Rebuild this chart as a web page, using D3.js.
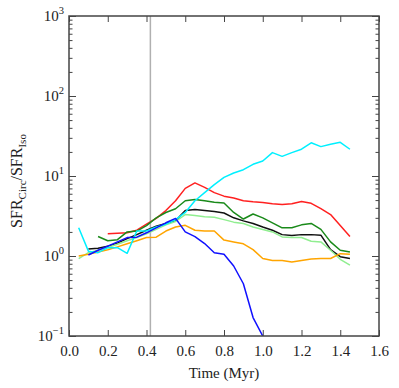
<!DOCTYPE html>
<html>
<head>
<meta charset="utf-8">
<script src="https://cdn.jsdelivr.net/npm/d3@7"></script>
<style>
  body { margin: 0; background: #fff; }
  text { font-family: "Liberation Serif", "DejaVu Serif", serif; fill: #222; }
</style>
</head>
<body>
<div id="chart"></div>
<script>
// data, time in Myr, ratio SFR_Circ / SFR_Iso
var times = [0.05, 0.10, 0.15, 0.20, 0.25, 0.30, 0.35, 0.40, 0.45, 0.50,
             0.55, 0.60, 0.65, 0.70, 0.75, 0.80, 0.85, 0.90, 0.95, 1.00,
             1.05, 1.10, 1.15, 1.20, 1.25, 1.30, 1.35, 1.40, 1.45];

// null = no value at that time
var redVals = [null, null, null, 1.9, 1.92, 1.95, 2.1, 2.5, 2.95, 3.7,
               4.9, 7.0, 8.2, 7.2, 6.2, 5.6, 5.3, 4.9, 4.75, 4.65,
               4.5, 4.4, 4.5, 4.8, 4.55, 3.9, 3.3, 2.4, 1.75];
var greenVals = [null, null, 1.75, 1.55, 1.6, 2.0, 2.05, 2.4, 3.0, 3.5,
                 3.9, 4.9, 5.1, 4.9, 4.7, 4.6, 3.5, 2.9, 3.35, 3.0,
                 2.6, 2.25, 2.25, 2.45, 2.55, 2.15, 1.5, 1.18, 1.12];
var blackVals = [null, 1.22, 1.25, 1.32, 1.45, 1.65, 1.85, 2.1, 2.35, 2.55,
                 2.75, 3.7, 3.8, 3.7, 3.6, 3.45, 3.0, 2.75, 2.55, 2.3,
                 2.1, 1.85, 1.8, 1.85, 1.85, 1.82, 1.2, 0.98, 0.93];
var lightGreenVals = [0.93, 1.1, 1.18, 1.28, 1.4, 1.55, 1.7, 1.9, 2.15, 2.45,
                      2.7, 3.3, 3.2, 3.1, 3.05, 2.85, 2.65, 2.55, 2.3, 2.15,
                      2.0, 1.73, 1.7, 1.7, 1.53, 1.5, 1.18, 0.91, 0.77];
var orangeVals = [1.0, 1.05, 1.12, 1.2, 1.3, 1.42, 1.55, 1.7, 1.72, 2.05,
                  2.3, 2.42, 2.1, 2.05, 2.05, 1.58, 1.5, 1.42, 1.2, 0.93,
                  0.88, 0.88, 0.84, 0.88, 0.92, 0.93, 0.93, 1.07, 1.05];
var cyanVals = [2.25, 1.15, 1.1, 1.27, 1.27, 1.08, 2.05, 2.05, 2.3, 2.5,
                2.85, 3.5, 4.9, 6.2, 7.8, 9.6, 10.9, 12.0, 14.0, 15.4,
                19.6, 17.6, 19.6, 21.6, 26.0, 23.3, 25.0, 26.4, 21.6];
var blueVals = [null, 1.03, 1.18, 1.33, 1.5, 1.7, 1.72, 1.95, 2.25, 2.6,
                2.95, 2.0, 1.75, 1.43, 1.1, 1.05, 0.75, 0.45, 0.17, 0.1,
                null, null, null, null, null, null, null, null, null];

var seriesNames = ["red", "green", "black", "lightgreen", "orange", "cyan", "blue"];
var seriesColors = ["#ff2020", "#1a8a1a", "#111111", "#90ee90", "#ffa500", "#00f0ff", "#1010ff"];
var seriesVals = [redVals, greenVals, blackVals, lightGreenVals, orangeVals, cyanVals, blueVals];

var markerTime = 0.42;
var xTicks = [0.0, 0.2, 0.4, 0.6, 0.8, 1.0, 1.2, 1.4, 1.6];
var yDecades = [-1, 0, 1, 2, 3];

var svgWidth = 399;
var svgHeight = 388;
var margin = { top: 16, right: 20, bottom: 52, left: 69 };
var width = svgWidth - margin.left - margin.right;
var height = svgHeight - margin.top - margin.bottom;

var svg = d3.select("#chart")
  .append("svg")
  .attr("width", svgWidth)
  .attr("height", svgHeight);

var chartGroup = svg.append("g")
  .attr("transform", `translate(${margin.left}, ${margin.top})`);

var xScale = d3.scaleLinear().domain([0, 1.6]).range([0, width]);
var yScale = d3.scaleLog().domain([0.1, 1000]).range([height, 0]);

// clip so lines stop at the frame
svg.append("defs").append("clipPath").attr("id", "plotclip")
  .append("rect").attr("width", width).attr("height", height);

// grey vertical marker
chartGroup.append("line")
  .attr("x1", xScale(markerTime)).attr("x2", xScale(markerTime))
  .attr("y1", 0).attr("y2", height)
  .attr("stroke", "#b0b0b0")
  .attr("stroke-width", 1.5);

// lines
var line = d3.line()
  .defined(d => d.v != null)
  .x(d => xScale(d.t))
  .y(d => yScale(d.v));

var linesGroup = chartGroup.append("g").attr("clip-path", "url(#plotclip)");
seriesVals.forEach(function(vals, i) {
  var pts = times.map((t, j) => ({ t: t, v: vals[j] }));
  linesGroup.append("path")
    .datum(pts)
    .attr("class", "series " + seriesNames[i])
    .attr("fill", "none")
    .attr("stroke", seriesColors[i])
    .attr("stroke-width", 1.5)
    .attr("stroke-linejoin", "round")
    .attr("d", line);
});

// axes: ticks pointing inward on all four sides
var minorVals = [];
yDecades.slice(0, -1).forEach(function(d) {
  for (var k = 2; k <= 9; k++) minorVals.push(k * Math.pow(10, d));
});
var majorVals = yDecades.map(d => Math.pow(10, d));

function styleAxis(g) {
  g.select(".domain").remove();
  g.selectAll(".tick line").attr("stroke", "#444").attr("stroke-width", 1);
  g.selectAll(".tick text")
    .style("font-size", "15px")
    .style("font-family", "'Liberation Serif', 'DejaVu Serif', serif");
}

chartGroup.append("g")
  .attr("transform", `translate(0, ${height})`)
  .call(d3.axisBottom(xScale).tickValues(xTicks).tickFormat(d3.format(".1f"))
    .tickSizeInner(-6).tickSizeOuter(0).tickPadding(9))
  .call(styleAxis);

chartGroup.append("g")
  .call(d3.axisTop(xScale).tickValues(xTicks).tickFormat("")
    .tickSizeInner(-6).tickSizeOuter(0))
  .call(styleAxis);

chartGroup.append("g")
  .call(d3.axisLeft(yScale).tickValues(majorVals).tickFormat("")
    .tickSizeInner(-7).tickSizeOuter(0))
  .call(styleAxis);

chartGroup.append("g")
  .call(d3.axisLeft(yScale).tickValues(minorVals).tickFormat("")
    .tickSizeInner(-3.5).tickSizeOuter(0))
  .call(styleAxis);

chartGroup.append("g")
  .attr("transform", `translate(${width}, 0)`)
  .call(d3.axisRight(yScale).tickValues(majorVals).tickFormat("")
    .tickSizeInner(-7).tickSizeOuter(0))
  .call(styleAxis);

chartGroup.append("g")
  .attr("transform", `translate(${width}, 0)`)
  .call(d3.axisRight(yScale).tickValues(minorVals).tickFormat("")
    .tickSizeInner(-3.5).tickSizeOuter(0))
  .call(styleAxis);

// y tick labels as 10^n
var yLabels = chartGroup.append("g");
yDecades.forEach(function(d) {
  var t = yLabels.append("text")
    .attr("x", -5)
    .attr("y", yScale(Math.pow(10, d)) + 5)
    .attr("text-anchor", "end")
    .style("font-size", "15px");
  t.append("tspan").text("10");
  t.append("tspan").attr("dy", -7).style("font-size", "10.5px").text(d < 0 ? "\u2212" + (-d) : d);
});

// frame
chartGroup.append("rect")
  .attr("width", width).attr("height", height)
  .attr("fill", "none")
  .attr("stroke", "#444")
  .attr("stroke-width", 1.5);

// axis labels
chartGroup.append("text")
  .attr("x", width / 2)
  .attr("y", height + 42)
  .attr("text-anchor", "middle")
  .style("font-size", "15px")
  .text("Time (Myr)");

var yTitle = svg.append("text")
  .attr("transform", `translate(22, ${margin.top + height / 2 + 5}) rotate(-90)`)
  .attr("text-anchor", "middle")
  .style("font-size", "16px");
yTitle.append("tspan").text("SFR");
yTitle.append("tspan").attr("dy", 4).style("font-size", "11px").text("Circ");
yTitle.append("tspan").attr("dy", -4).text("/SFR");
yTitle.append("tspan").attr("dy", 4).style("font-size", "11px").text("Iso");
</script>
</body>
</html>
